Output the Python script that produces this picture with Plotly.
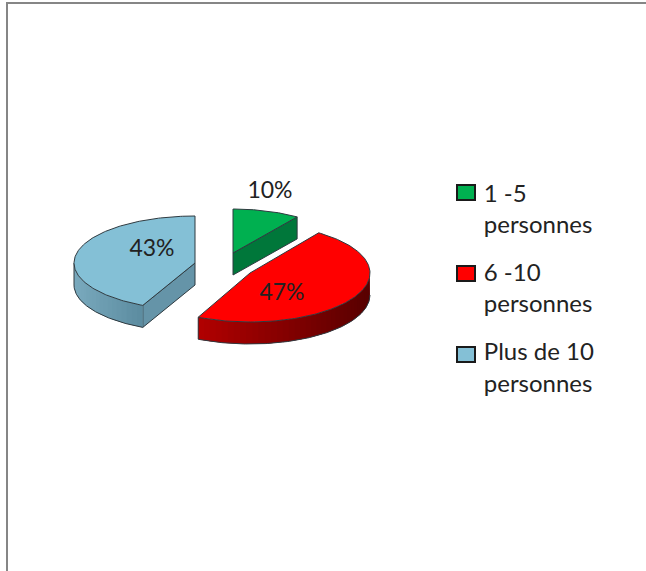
import numpy as np
import plotly.graph_objects as go

categories = ["1 -5<br>personnes", "6 -10<br>personnes", "Plus de 10<br>personnes"]
values = [9.7, 47.4, 42.9]
labels = [f"{round(v)}%" for v in values]

colors = ["#00B050", "#FF0000", "#84C0D6"]
face_colors = ["#00773A", "#8A0000", "#6594A8"]
wall_left = [(0, 120, 60), (178, 0, 0), (122, 170, 190)]
wall_right = [(0, 110, 55), (88, 0, 0), (92, 140, 160)]
cx = [233, 250, 195]
cy = [253, 273, 263]
rx = [112, 120, 121]
ry = [44, 49, 47]
depth = 22
label_x = [270, 282, 152]
label_y = [192, 294, 250]
swatch_y = [185, 266, 347]
FONT = "Lato, Carlito, sans-serif"
OUTLINE = "#2F3A40"

fig = go.Figure()


def pts(i, t):
    t = np.radians(t)
    return cx[i] + rx[i] * np.sin(t), cy[i] - ry[i] * np.cos(t)


def poly(x, y, fill, line=None, width=0.0):
    fig.add_trace(go.Scatter(
        x=list(x), y=list(y), mode="lines", fill="toself", fillcolor=fill,
        line=dict(color=line or fill, width=width),
        hoverinfo="skip", showlegend=False))


def rgb(c):
    return f"rgb({int(c[0])},{int(c[1])},{int(c[2])})"


edges = np.cumsum([0] + values) / sum(values) * 360
for i in [0, 2, 1]:
    a, b = edges[i], edges[i + 1]
    # radial cut faces that look towards the viewer
    for ang, normal in ((a, a - 90), (b, b + 90)):
        if np.cos(np.radians(normal)) < -1e-6:
            ex, ey = pts(i, ang)
            poly([cx[i], ex, ex, cx[i], cx[i]],
                 [cy[i], ey, ey + depth, cy[i] + depth, cy[i]],
                 face_colors[i], OUTLINE, 1)
    # curved outer wall, front half only: strips overlap so no seams show
    lo, hi = max(a, 90), min(b, 270)
    if hi > lo:
        steps = np.linspace(lo, hi, int((hi - lo) / 3) + 2)
        x0, x1 = pts(i, hi)[0], pts(i, lo)[0]
        for s, e in zip(steps[:-1], steps[1:]):
            tt = np.linspace(s, min(e + 3, hi), 6)
            xs, ys = pts(i, tt)
            f = (pts(i, (s + e) / 2)[0] - x0) / (x1 - x0)
            c = [wall_left[i][k] + f * (wall_right[i][k] - wall_left[i][k]) for k in range(3)]
            poly([*xs, *xs[::-1], xs[0]], [*ys, *(ys[::-1] + depth), ys[0]], rgb(c))
        tt = np.linspace(lo, hi, 120)
        ox, oy = pts(i, tt)
        fig.add_trace(go.Scatter(
            x=list(ox) + [pts(i, hi)[0]], y=list(oy + depth) + [pts(i, hi)[1]],
            mode="lines", line=dict(color=OUTLINE, width=1),
            hoverinfo="skip", showlegend=False))
    # top surface
    tt = np.linspace(a, b, 160)
    ox, oy = pts(i, tt)
    poly([cx[i], *ox, cx[i]], [cy[i], *oy, cy[i]], colors[i], OUTLINE, 1)

# data labels
fig.add_trace(go.Scatter(
    x=label_x, y=label_y, mode="text", text=labels,
    textfont=dict(family=FONT, size=23, color="#222222"),
    textposition="middle center", hoverinfo="skip", showlegend=False))

# legend entries (swatches are drawn beside the first text line, as in the reference)
for name in categories:
    fig.add_trace(go.Scatter(
        x=[None], y=[None], mode="markers", name=name, legendgroup=name,
        marker=dict(symbol="square", size=1, color="rgba(0,0,0,0)")))
for col, y0 in zip(colors, swatch_y):
    fig.add_shape(type="rect", x0=457, x1=475, y0=y0, y1=y0 + 15, xref="x", yref="y",
                  fillcolor=col, line=dict(color="#1A1A1A", width=2))

# chart frame
fig.add_shape(type="rect", x0=7, y0=3, x1=700, y1=640, xref="x", yref="y",
              line=dict(color="#868686", width=2), layer="below")

fig.update_layout(
    width=646, height=571, autosize=False,
    margin=dict(l=0, r=0, t=0, b=0),
    paper_bgcolor="white", plot_bgcolor="white",
    xaxis=dict(range=[0, 646], visible=False, fixedrange=True),
    yaxis=dict(range=[571, 0], visible=False, fixedrange=True),
    legend=dict(x=0.687, y=0.702, xanchor="left", yanchor="top",
                font=dict(family=FONT, size=24, color="#222222"),
                tracegroupgap=14, itemwidth=30, bgcolor="rgba(0,0,0,0)"),
)
fig.write_html("out.html", config={"displayModeBar": False},
               post_script="document.body.style.margin='0';document.documentElement.style.overflow='hidden';")
